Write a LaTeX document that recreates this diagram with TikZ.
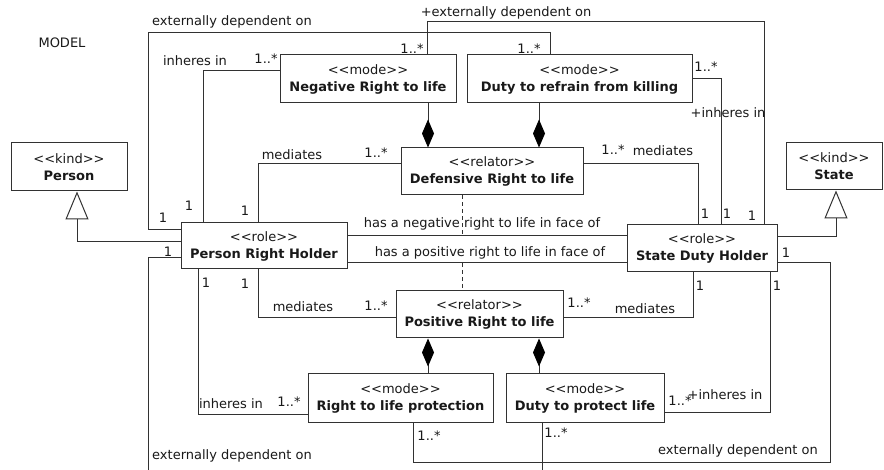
\documentclass[tikz,border=0pt]{standalone}
\usepackage{fontspec}
\setmainfont{DejaVu Sans}
\usetikzlibrary{arrows.meta}
\definecolor{linec}{RGB}{50,50,50}
\definecolor{textc}{RGB}{25,25,25}
\newcommand{\stereo}[1]{<{}<#1>{}>}
\tikzset{
  umlbox/.style={draw=linec, fill=white, line width=1pt, inner sep=0pt, align=center,
    font=\fontsize{13}{17}\selectfont, text=textc},
  lbl/.style={inner sep=0pt, font=\fontsize{13}{15}\selectfont, text=textc},
  conn/.style={draw=linec, line width=1pt},
  gen/.style={conn, -{Triangle[open, length=28pt, width=23pt]}},
  compend/.style={conn, -{Diamond[length=28pt, width=12pt, fill=black, color=black]}},
  compstart/.style={conn, {Diamond[length=28pt, width=12pt, fill=black, color=black]}-},
  assoclink/.style={draw=linec, line width=1pt, dash pattern=on 4pt off 3pt}
}
\begin{document}
\begin{tikzpicture}[x=1pt,y=-1pt]
\useasboundingbox (0,0) rectangle (884,470);
\fill[white] (0,0) rectangle (884,470);

% boxes
\node[umlbox, minimum width=116pt, minimum height=48pt] (pkind) at (69,167) {\stereo{kind}\\\textbf{Person}};
\node[umlbox, minimum width=96pt, minimum height=47pt] (skind) at (834,166.5) {\stereo{kind}\\\textbf{State}};
\node[umlbox, minimum width=176pt, minimum height=48pt] (neg) at (368,79) {\stereo{mode}\\\textbf{Negative Right to life}};
\node[umlbox, minimum width=225pt, minimum height=48pt] (refrain) at (579.5,79) {\stereo{mode}\\\textbf{Duty to refrain from killing}};
\node[umlbox, minimum width=182pt, minimum height=47pt] (def) at (492,171.5) {\stereo{relator}\\\textbf{Defensive Right to life}};
\node[umlbox, minimum width=166pt, minimum height=46pt] (prh) at (264,246) {\stereo{role}\\\textbf{Person Right Holder}};
\node[umlbox, minimum width=150pt, minimum height=47pt] (sdh) at (702,248.5) {\stereo{role}\\\textbf{State Duty Holder}};
\node[umlbox, minimum width=167pt, minimum height=47pt] (pos) at (479.5,314.5) {\stereo{relator}\\\textbf{Positive Right to life}};
\node[umlbox, minimum width=185pt, minimum height=48pt] (rlp) at (400.5,398) {\stereo{mode}\\\textbf{Right to life protection}};
\node[umlbox, minimum width=158pt, minimum height=48pt] (dpl) at (585,398) {\stereo{mode}\\\textbf{Duty to protect life}};

\node[lbl] (model) at (62,43) {MODEL};

% generalizations
\draw[gen] (prh.west |- 0,242) -- (77,242) -- (77,0 |- pkind.south);
\draw[gen] (sdh.east |- 0,237) -- (836,237) -- (836,0 |- skind.south);

% externally dependent (top-left)
\draw[conn] (prh.west |- 0,230) -- (148,230) -- (148,33) -- (550,33) -- (550,0 |- refrain.north);
% +externally dependent
\draw[conn] (427,0 |- neg.north) -- (427,22) -- (764,22) -- (764,0 |- sdh.north);
% inheres in (negative)
\draw[conn] (neg.west |- 0,71) -- (203,71) -- (203,0 |- prh.north);
% mediates defensive
\draw[conn] (def.west |- 0,164) -- (258,164) -- (258,0 |- prh.north);
\draw[conn] (def.east |- 0,164) -- (698,164) -- (698,0 |- sdh.north);
% +inheres in (refrain)
\draw[conn] (refrain.east |- 0,79) -- (721,79) -- (721,0 |- sdh.north);
% composition top
\draw[compend] (428,0 |- neg.south) -- (428,0 |- def.north);
\draw[compend] (539,0 |- refrain.south) -- (539,0 |- def.north);

% associations between roles
\coordinate (negmid) at (462,236);
\coordinate (posmid) at (462,263);
\draw[conn] (prh.east |- 0,236) -- (sdh.west |- 0,236);
\draw[conn] (prh.east |- 0,263) -- (sdh.west |- 0,263);
\draw[assoclink] (462,0 |- def.south) -- (negmid);
\draw[assoclink] (posmid) -- (462,0 |- pos.north);

% mediates positive
\draw[conn] (pos.west |- 0,318) -- (258,318) -- (258,0 |- prh.south);
\draw[conn] (pos.east |- 0,318) -- (693,318) -- (693,0 |- sdh.south);
% composition bottom
\draw[compstart] (428,0 |- pos.south) -- (428,0 |- rlp.north);
\draw[compstart] (539,0 |- pos.south) -- (539,0 |- dpl.north);
% inheres in bottom
\draw[conn] (rlp.west |- 0,414) -- (198,414) -- (198,0 |- prh.south);
\draw[conn] (dpl.east |- 0,412) -- (770,412) -- (770,0 |- sdh.south);
% externally dependent bottom
\draw[conn] (413,0 |- rlp.south) -- (413,462) -- (830,462) -- (830,263) -- (sdh.east |- 0,263);
\coordinate (dplout) at (542,471);
\coordinate (prhout) at (148,471);
\draw[conn] (542,0 |- dpl.south) -- (dplout);
\draw[conn] (prh.west |- 0,258) -- (148,258) -- (prhout);

% labels
\node[lbl] (l1) at (232,22) {externally dependent on};
\node[lbl] (l2) at (506,13) {+externally dependent on};
\node[lbl] (l3) at (412,49) {1..*};
\node[lbl] (l4) at (529,49) {1..*};
\node[lbl] (l5) at (195,61) {inheres in};
\node[lbl] (l6) at (266,59) {1..*};
\node[lbl] (l7) at (706,67) {1..*};
\node[lbl] (l8) at (728,113) {+inheres in};
\node[lbl] (l9) at (292,155) {mediates};
\node[lbl] (l10) at (376,153) {1..*};
\node[lbl] (l11) at (613,150) {1..*};
\node[lbl] (l12) at (663,151) {mediates};
\node[lbl] (l13) at (163,218) {1};
\node[lbl] (l14) at (189,206) {1};
\node[lbl] (l15) at (245,211) {1};
\node[lbl] (l16) at (705,214) {1};
\node[lbl] (l17) at (727,214) {1};
\node[lbl] (l18) at (752,216) {1};
\node[lbl] (l19) at (482,224) {has a negative right to life in face of};
\node[lbl] (l20) at (490,253) {has a positive right to life in face of};
\node[lbl] (l21) at (168,252) {1};
\node[lbl] (l22) at (786,253) {1};
\node[lbl] (l23) at (206,283) {1};
\node[lbl] (l24) at (245,284) {1};
\node[lbl] (l25) at (700,286) {1};
\node[lbl] (l26) at (777,286) {1};
\node[lbl] (l27) at (303,307) {mediates};
\node[lbl] (l28) at (376,306) {1..*};
\node[lbl] (l29) at (579,303) {1..*};
\node[lbl] (l30) at (645,309) {mediates};
\node[lbl] (l31) at (231,404) {inheres in};
\node[lbl] (l32) at (289,402) {1..*};
\node[lbl] (l33) at (680,401) {1..*};
\node[lbl] (l34) at (725,395) {+inheres in};
\node[lbl] (l35) at (429,436) {1..*};
\node[lbl] (l36) at (556,433) {1..*};
\node[lbl] (l37) at (232,456) {externally dependent on};
\node[lbl] (l38) at (738,451) {externally dependent on};
\end{tikzpicture}
\end{document}
